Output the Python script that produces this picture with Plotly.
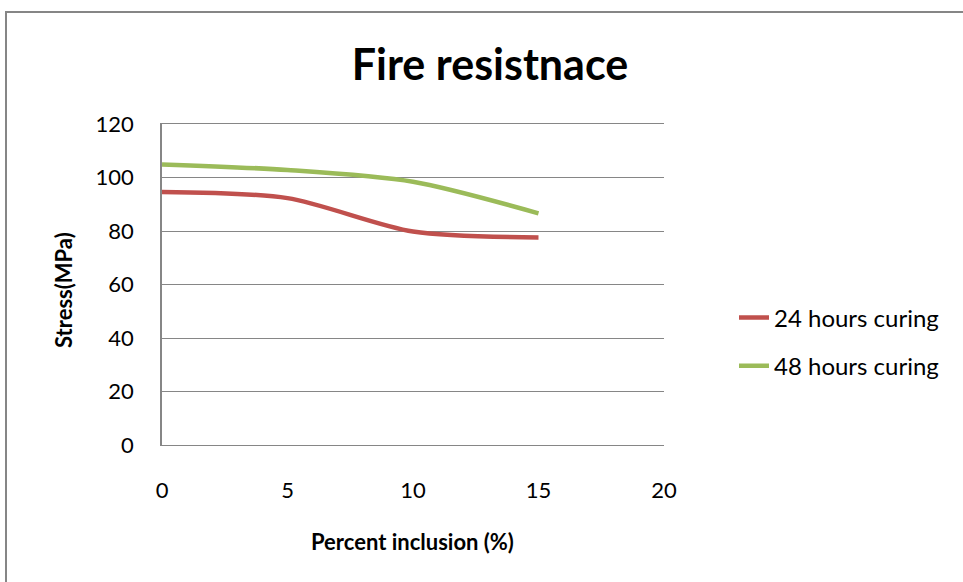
import plotly.graph_objects as go

percent = [0, 5, 10, 15]
stress_24h = [94.6, 92.3, 79.8, 77.6]
stress_48h = [104.9, 102.8, 98.4, 86.6]
series_names = ["24 hours curing", "48 hours curing"]
x_ticks = [0, 5, 10, 15, 20]
y_ticks = [0, 20, 40, 60, 80, 100, 120]

W, H = 963, 582
L, R, T, B = 162, 299, 124, 137
pw, ph = W - L - R, H - T - B

FONT = "Lato, Calibri, 'Open Sans', sans-serif"

fig = go.Figure()
fig.add_trace(go.Scatter(x=percent, y=stress_24h, mode="lines", name=series_names[0],
                         line=dict(color="#C0504D", width=4.5, shape="spline", smoothing=0.8),
                         legendgroup="a"))
fig.add_trace(go.Scatter(x=percent, y=stress_48h, mode="lines", name=series_names[1],
                         line=dict(color="#9BBB59", width=4.5, shape="spline", smoothing=0.8),
                         legendgroup="b"))

# outer chart border
fig.add_shape(type="rect", xref="paper", yref="paper",
              x0=(6 - L) / pw, x1=(W + 20 - L) / pw,
              y0=-(H + 20 - (H - B)) / ph, y1=((H - B) - 12) / ph,
              line=dict(color="#868686", width=2), fillcolor="rgba(0,0,0,0)", layer="below")

fig.add_annotation(text="<b>Percent inclusion (%)</b>", xref="paper", yref="paper",
                   x=(412 - L) / pw, y=-(541 - (H - B)) / ph, xanchor="center", yanchor="middle",
                   showarrow=False, font=dict(size=22, family=FONT, color="black"))
fig.add_annotation(text="<b>Stress(MPa)</b>", xref="paper", yref="paper",
                   x=(63 - L) / pw, y=((H - B) - 290) / ph, xanchor="center", yanchor="middle",
                   textangle=-90, showarrow=False, font=dict(size=22, family=FONT, color="black"))

fig.update_layout(
    width=W, height=H,
    margin=dict(l=L, r=R, t=T, b=B, autoexpand=False),
    paper_bgcolor="white", plot_bgcolor="white",
    font=dict(family=FONT, color="black", size=22),
    title=dict(text="<b>Fire resistnace</b>", x=490 / W, xref="container", xanchor="center",
               y=1 - 65 / H, yref="container", yanchor="middle",
               font=dict(size=43, family=FONT)),
    xaxis=dict(range=[0, 20], tickvals=x_ticks, showgrid=False, zeroline=False,
               showline=True, mirror=True, linecolor="#868686", linewidth=1,
               ticks="", ticklen=0, tickfont=dict(size=22), ticklabelstandoff=26),
    yaxis=dict(range=[0, 120], tickvals=y_ticks, showgrid=True, gridcolor="#868686",
               gridwidth=1, zeroline=False, showline=True, linecolor="#868686", linewidth=1.5,
               ticks="", ticklen=0, tickfont=dict(size=22), ticklabelstandoff=22),
    legend=dict(x=(734 - L) / pw, xanchor="left", y=((H - B) - 342) / ph, yanchor="middle",
                traceorder="grouped", tracegroupgap=14, font=dict(size=24),
                bgcolor="rgba(0,0,0,0)"),
    showlegend=True,
)

fig.write_html("out.html", config={"displayModeBar": False},
               post_script="document.body.style.margin='0';document.body.style.padding='0';"
                           "document.body.style.overflow='hidden';")
